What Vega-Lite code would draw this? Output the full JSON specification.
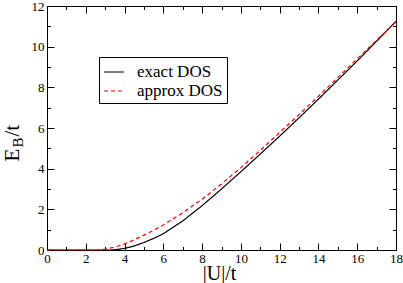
{
  "$schema": "https://vega.github.io/schema/vega-lite/v6.json",
  "width": 349,
  "height": 244,
  "autosize": "none",
  "padding": {"left": 47, "top": 6, "right": 7, "bottom": 33},
  "data": {"values": [
    {"u": 0, "e": 0, "series": "exact DOS"},
    {"u": 3, "e": 0, "series": "exact DOS"},
    {"u": 3.3, "e": 0, "series": "exact DOS"},
    {"u": 3.5, "e": 0.01, "series": "exact DOS"},
    {"u": 4, "e": 0.08, "series": "exact DOS"},
    {"u": 4.5, "e": 0.2, "series": "exact DOS"},
    {"u": 5, "e": 0.37, "series": "exact DOS"},
    {"u": 5.5, "e": 0.57, "series": "exact DOS"},
    {"u": 6, "e": 0.8, "series": "exact DOS"},
    {"u": 7, "e": 1.43, "series": "exact DOS"},
    {"u": 8, "e": 2.18, "series": "exact DOS"},
    {"u": 9, "e": 3.0, "series": "exact DOS"},
    {"u": 10, "e": 3.85, "series": "exact DOS"},
    {"u": 11, "e": 4.72, "series": "exact DOS"},
    {"u": 12, "e": 5.6, "series": "exact DOS"},
    {"u": 13, "e": 6.5, "series": "exact DOS"},
    {"u": 14, "e": 7.42, "series": "exact DOS"},
    {"u": 15, "e": 8.36, "series": "exact DOS"},
    {"u": 16, "e": 9.3, "series": "exact DOS"},
    {"u": 17, "e": 10.27, "series": "exact DOS"},
    {"u": 18, "e": 11.25, "series": "exact DOS"},
    {"u": 0, "e": 0, "series": "approx DOS"},
    {"u": 2.6, "e": 0, "series": "approx DOS"},
    {"u": 3, "e": 0.04, "series": "approx DOS"},
    {"u": 3.5, "e": 0.14, "series": "approx DOS"},
    {"u": 4, "e": 0.3, "series": "approx DOS"},
    {"u": 4.5, "e": 0.5, "series": "approx DOS"},
    {"u": 5, "e": 0.73, "series": "approx DOS"},
    {"u": 5.5, "e": 0.97, "series": "approx DOS"},
    {"u": 6, "e": 1.23, "series": "approx DOS"},
    {"u": 7, "e": 1.83, "series": "approx DOS"},
    {"u": 8, "e": 2.5, "series": "approx DOS"},
    {"u": 9, "e": 3.25, "series": "approx DOS"},
    {"u": 10, "e": 4.05, "series": "approx DOS"},
    {"u": 11, "e": 4.9, "series": "approx DOS"},
    {"u": 12, "e": 5.78, "series": "approx DOS"},
    {"u": 13, "e": 6.66, "series": "approx DOS"},
    {"u": 14, "e": 7.56, "series": "approx DOS"},
    {"u": 15, "e": 8.48, "series": "approx DOS"},
    {"u": 16, "e": 9.4, "series": "approx DOS"},
    {"u": 17, "e": 10.32, "series": "approx DOS"},
    {"u": 18, "e": 11.22, "series": "approx DOS"}
  ]},
  "layer": [
    {
      "mark": {"type": "line", "strokeWidth": 1.2},
      "encoding": {
        "x": {"field": "u", "type": "quantitative",
          "scale": {"domain": [0, 18], "nice": false, "zero": false},
          "axis": {"orient": "bottom", "values": [0,1,2,3,4,5,6,7,8,9,10,11,12,13,14,15,16,17,18],
            "labelExpr": "datum.value % 2 == 0 ? datum.label : ''",
            "tickSize": {"condition": {"test": "datum.value % 2 == 0", "value": -7}, "value": -3.5},
            "labelPadding": 9, "labelFont": "Liberation Serif", "labelFontSize": 13,
            "title": "|U|/t", "titleFont": "Liberation Serif", "titleFontSize": 20, "titleX": 172, "titleY": 29,
            "titleAlign": "center", "titleBaseline": "alphabetic"}},
        "y": {"field": "e", "type": "quantitative",
          "scale": {"domain": [0, 12], "nice": false, "zero": false},
          "axis": {"orient": "left", "values": [0,1,2,3,4,5,6,7,8,9,10,11,12],
            "labelExpr": "datum.value % 2 == 0 ? datum.label : ''",
            "tickSize": {"condition": {"test": "datum.value % 2 == 0", "value": -7}, "value": -3.5},
            "labelPadding": 10, "labelFont": "Liberation Serif", "labelFontSize": 13,
            "title": "E", "titleFont": "Liberation Serif", "titleFontSize": 21, "titleAngle": 270, "titleX": -29, "titleY": 155,
            "titleAlign": "left", "titleBaseline": "alphabetic"}},
        "color": {"field": "series", "type": "nominal",
          "scale": {"domain": ["exact DOS", "approx DOS"], "range": ["#000000", "#ff0000"]},
          "legend": {"orient": "none", "legendX": 52, "legendY": 51, "title": null,
            "strokeColor": "#000000", "fillColor": "#ffffff", "padding": 4,
            "symbolType": "stroke", "symbolSize": 400, "symbolStrokeWidth": 1.2,
            "labelFont": "Liberation Serif", "labelFontSize": 17, "labelColor": "#000000",
            "labelOffset": 12, "rowPadding": -2}},
        "strokeDash": {"field": "series", "type": "nominal",
          "scale": {"domain": ["exact DOS", "approx DOS"], "range": [[1, 0], [4, 3]]},
          "legend": {"orient": "none", "legendX": 52, "legendY": 51, "title": null,
            "strokeColor": "#000000", "fillColor": "#ffffff", "padding": 4,
            "symbolType": "stroke", "symbolSize": 400, "symbolStrokeWidth": 1.2,
            "labelFont": "Liberation Serif", "labelFontSize": 17, "labelColor": "#000000",
            "labelOffset": 12, "rowPadding": -2}}
      }
    },
    {
      "mark": {"type": "line", "opacity": 0},
      "encoding": {
        "detail": {"field": "series"},
        "x": {"field": "u", "type": "quantitative",
          "axis": {"orient": "top", "values": [0,1,2,3,4,5,6,7,8,9,10,11,12,13,14,15,16,17,18],
            "labels": false, "title": null,
            "tickSize": {"condition": {"test": "datum.value % 2 == 0", "value": -7}, "value": -3.5}}},
        "y": {"field": "e", "type": "quantitative",
          "axis": {"orient": "right", "values": [0,1,2,3,4,5,6,7,8,9,10,11,12],
            "labels": false, "title": null,
            "tickSize": {"condition": {"test": "datum.value % 2 == 0", "value": -7}, "value": -3.5}}}
      }
    },
    {
      "mark": {"type": "line", "opacity": 0},
      "encoding": {
        "detail": {"field": "series"},
        "x": {"field": "u", "type": "quantitative", "axis": null},
        "y": {"field": "e", "type": "quantitative",
          "axis": {"orient": "left", "domain": false, "ticks": false, "labels": false,
            "title": "B", "titleFont": "Liberation Serif", "titleFontSize": 15, "titleAngle": 270, "titleX": -25, "titleY": 141,
            "titleAlign": "left", "titleBaseline": "alphabetic"}}
      }
    },
    {
      "mark": {"type": "line", "opacity": 0},
      "encoding": {
        "detail": {"field": "series"},
        "x": {"field": "u", "type": "quantitative", "axis": null},
        "y": {"field": "e", "type": "quantitative",
          "axis": {"orient": "left", "domain": false, "ticks": false, "labels": false,
            "title": "/t", "titleFont": "Liberation Serif", "titleFontSize": 21, "titleAngle": 270, "titleX": -29, "titleY": 130,
            "titleAlign": "left", "titleBaseline": "alphabetic"}}
      }
    }
  ],
  "resolve": {"axis": {"x": "independent", "y": "independent"}},
  "config": {
    "font": "Liberation Serif",
    "view": {"stroke": null},
    "axis": {"domainColor": "#000000", "domainWidth": 1, "tickColor": "#000000", "tickWidth": 1,
      "labelFont": "Liberation Serif", "labelFontSize": 13, "labelColor": "#000000",
      "titleFont": "Liberation Serif", "titleFontWeight": "normal", "titleColor": "#000000",
      "grid": false, "labelFlush": false, "labelOverlap": false},
    "legend": {"labelFont": "Liberation Serif"}
  }
}
